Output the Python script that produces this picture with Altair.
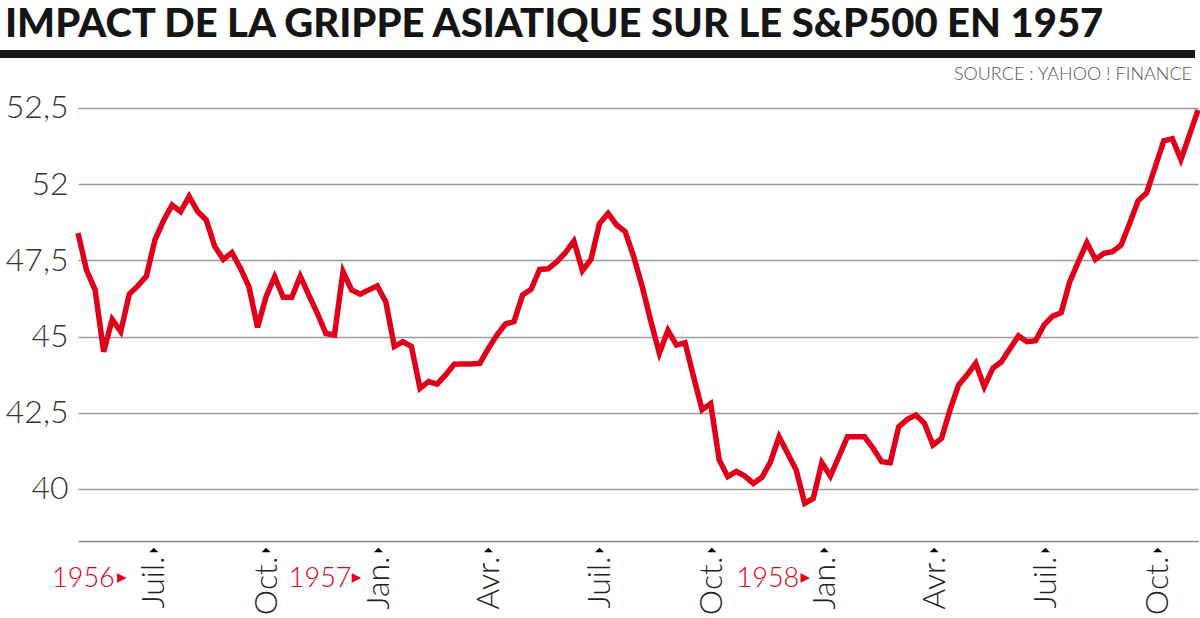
import altair as alt
import pandas as pd

# ---------------- data ----------------
title_text = ["IMPACT DE LA GRIPPE ASIATIQUE SUR LE S&P500 EN 1957"]
source_text = ["SOURCE : YAHOO ! FINANCE"]

start_date = "1956-04-30"
sp500 = [
    48.39, 47.18, 46.53, 44.50, 45.56, 45.16, 46.39, 46.66, 46.98, 48.17,
    48.80, 49.31, 49.10, 49.60, 49.10, 48.82, 47.95, 47.53, 47.75, 47.24,
    46.63, 45.30, 46.31, 46.96, 46.29, 46.29, 46.98, 46.36, 45.76, 45.10,
    45.05, 47.13, 46.53, 46.39, 46.53, 46.66, 46.14, 44.67, 44.83, 44.67,
    43.30, 43.52, 43.44, 43.74, 44.09, 44.10, 44.10, 44.12, 44.61, 45.05,
    45.41, 45.49, 46.36, 46.55, 47.20, 47.22, 47.45, 47.75, 48.13, 47.16,
    47.53, 48.71, 49.04, 48.66, 48.44, 47.62, 46.63, 45.50, 44.45, 45.20,
    44.72, 44.80, 43.68, 42.60, 42.80, 40.95, 40.40, 40.57, 40.42, 40.18,
    40.38, 40.89, 41.71, 41.17, 40.62, 39.53, 39.69, 40.86, 40.42, 41.06,
    41.71, 41.71, 41.71, 41.33, 40.89, 40.86, 42.04, 42.28, 42.42, 42.15,
    41.44, 41.66, 42.59, 43.41, 43.74, 44.12, 43.35, 43.96, 44.17, 44.60,
    45.02, 44.83, 44.86, 45.38, 45.67, 45.78, 46.80, 47.45, 48.08, 47.53,
    47.73, 47.78, 48.00, 48.71, 49.45, 49.72, 50.57, 51.42, 51.49, 50.81,
    51.61, 52.43,
]

y_ticks = [40, 42.5, 45, 47.5, 50, 52.5]
y_tick_labels = ["40", "42,5", "45", "47,5", "52", "52,5"]

x_tick_dates = [
    (1956, 7), (1956, 10), (1957, 1), (1957, 4), (1957, 7),
    (1957, 10), (1958, 1), (1958, 4), (1958, 7), (1958, 10),
]
month_names = ["Jan.", "Fév.", "Mars", "Avr.", "Mai", "Juin",
               "Juil.", "Août", "Sept.", "Oct.", "Nov.", "Déc."]

year_labels = ["1956", "1957", "1958"]
year_anchor = ["1956-07-01T00:00:00", "1957-01-01T00:00:00", "1958-01-01T00:00:00"]

# ---------------- styles ----------------
RED = "#e1001a"
DARK = "#151515"
year_text_dx = [-39, -27, -25]
year_tri_dx = [-32, -22, -19]

dates = pd.date_range(start_date, periods=len(sp500), freq="7D").strftime("%Y-%m-%dT00:00:00")
df = pd.DataFrame({"date": list(dates), "value": sp500})

tick_df = pd.DataFrame({"date": [f"{y}-{m:02d}-01T00:00:00" for y, m in x_tick_dates]})

month_js = "[" + ",".join(f"'{m}'" for m in month_names) + "]"
x_label_expr = f"{month_js}[month(datum.value)]"

y_label_expr = ""
for v, lab in zip(y_ticks, y_tick_labels):
    y_label_expr += f"datum.value == {v} ? '{lab}' : "
y_label_expr += "''"

x_scale = alt.Scale(nice=False)
y_scale = alt.Scale(domain=[38.29, 52.76], nice=False, zero=False)

x_axis = alt.Axis(
    values=[alt.DateTime(year=y, month=m, date=1) for y, m in x_tick_dates],
    labelExpr=x_label_expr, title=None, grid=False, ticks=False, tickSize=0,
    domain=True, domainColor="#8a8a8a", domainWidth=1.5,
    labelAngle=270, labelFont="Lato", labelFontWeight=300, labelFontSize=32,
    labelColor="#222222", labelPadding=15, labelOverlap=False, labelBound=False,
    labelFlush=False,
)
y_axis = alt.Axis(
    values=y_ticks, labelExpr=y_label_expr, title=None, grid=True,
    gridColor="#9a9a9a", gridWidth=1.5, ticks=False, tickSize=0, domain=False,
    labelFont="Lato", labelFontWeight=300, labelFontSize=32, labelColor="#333333",
    labelPadding=10, labelOverlap=False,
)

line = alt.Chart(df).mark_line(color=RED, strokeWidth=5.5).encode(
    x=alt.X("date:T", scale=x_scale, axis=x_axis),
    y=alt.Y("value:Q", scale=y_scale, axis=y_axis),
)

tri = alt.Chart(tick_df).mark_point(
    shape="M-1,0.5L1,0.5L0,-0.5Z", filled=True, color="black", size=81, opacity=1
).encode(x="date:T", y=alt.value(450))

layers = [line, tri]
for lab, anc, dxt, dxr in zip(year_labels, year_anchor, year_text_dx, year_tri_dx):
    ydf = pd.DataFrame({"date": [anc], "label": [lab], "tri": ["▸"]})
    layers.append(
        alt.Chart(ydf).mark_text(
            align="right", baseline="alphabetic", font="Lato", fontSize=27,
            fontWeight=300, color=RED, dx=dxt,
        ).encode(x="date:T", y=alt.value(487), text="label:N")
    )
    layers.append(
        alt.Chart(ydf).mark_text(
            align="center", baseline="middle", font="DejaVu Sans", fontSize=19,
            color=RED, dx=dxr,
        ).encode(x="date:T", y=alt.value(477), text="tri:N")
    )

title = alt.Chart(pd.DataFrame({"t": title_text})).mark_text(
    align="left", baseline="alphabetic", font="Lato", fontSize=40, fontWeight=900,
    color=DARK,
).encode(x=alt.value(-73), y=alt.value(-63), text="t:N")

bar = alt.Chart(pd.DataFrame({"t": title_text})).mark_rule(
    color=DARK, strokeWidth=8
).encode(x=alt.value(-78), x2=alt.value(1117), y=alt.value(-46))

source = alt.Chart(pd.DataFrame({"t": source_text})).mark_text(
    align="right", baseline="alphabetic", font="Lato", fontSize=18, fontWeight=300,
    color="#555555",
).encode(x=alt.value(1114), y=alt.value(-20), text="t:N")

layers += [title, bar, source]

chart = alt.layer(*layers).properties(
    width=1120, height=441,
    autosize=alt.AutoSizeParams(type="none"),
    padding={"left": 78, "top": 100, "right": 2, "bottom": 77},
).configure_view(strokeWidth=0)

chart.save("out.html", embed_options={"renderer": "svg", "actions": False})
